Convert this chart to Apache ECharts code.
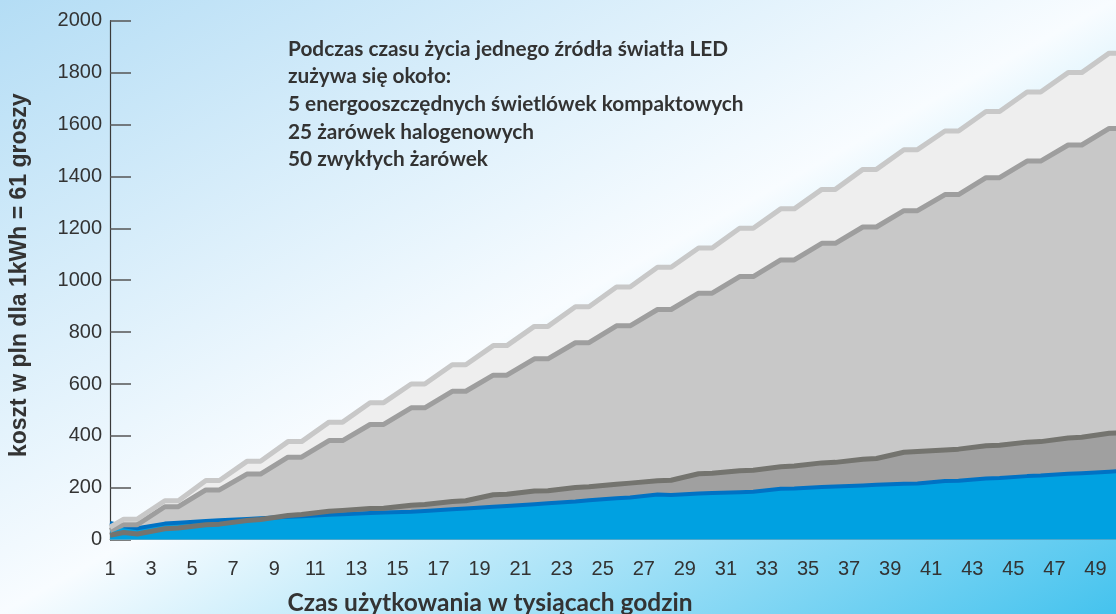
<!DOCTYPE html>
<html>
<head>
<meta charset="utf-8">
<script src="https://cdn.jsdelivr.net/npm/echarts@6/dist/echarts.min.js"></script>
<style>html,body{margin:0;padding:0;}#c{width:1116px;height:614px;}</style>
</head>
<body>
<div id="c"></div>
<script>
// x positions (thousands of hours)
const hours = [1, 1.67, 2.33, 3.67, 4.33, 5.67, 6.33, 7.67, 8.33, 9.67, 10.33, 11.67, 12.33, 13.67, 14.33, 15.67, 16.33, 17.67, 18.33, 19.67, 20.33, 21.67, 22.33, 23.67, 24.33, 25.67, 26.33, 27.67, 28.33, 29.67, 30.33, 31.67, 32.33, 33.67, 34.33, 35.67, 36.33, 37.67, 38.33, 39.67, 40.33, 41.67, 42.33, 43.67, 44.33, 45.67, 46.33, 47.67, 48.33, 49.67, 50.33];
// zwykła żarówka
const incandescent = [48, 79,79, 150,150, 228,228, 302,302, 378,378, 453,453, 528,528, 600,600, 674,674, 748,748, 822,822, 898,898, 974,974, 1050,1050, 1124,1124, 1200,1200, 1275,1275, 1350,1350, 1427,1427, 1503,1503, 1575,1575, 1650,1650, 1725,1725, 1800,1800, 1875,1875];
// halogen
const halogen = [36, 58,58, 127,127, 192,192, 253,253, 318,318, 382,382, 444,444, 508,508, 572,572, 634,634, 697,697, 759,759, 824,824, 887,887, 950,950, 1014,1014, 1078,1078, 1142,1142, 1205,1205, 1268,1268, 1330,1330, 1395,1395, 1459,1459, 1521,1521, 1585,1585];
// świetlówka kompaktowa
const compact = [17, 28,22, 42,45, 58,60, 74,78, 93,97, 110,113, 120,121, 133,136, 147,150, 173,175, 188,189, 201,204, 214,218, 227,229, 254,256, 266,268, 281,284, 296,298, 310,313, 337,340, 346,349, 362,364, 376,378, 392,395, 410,412];
// LED
const led = [65, 52,44, 62,65, 72,75, 80,83, 88,90, 96,98, 103,105, 108,111, 117,120, 127,130, 137,140, 147,152, 160,163, 174,172, 178,180, 183,185, 196,197, 203,205, 209,212, 216,217, 226,227, 236,238, 245,247, 254,256, 262,265];
const xTickLabels = [1, 3, 5, 7, 9, 11, 13, 15, 17, 19, 21, 23, 25, 27, 29, 31, 33, 35, 37, 39, 41, 43, 45, 47, 49];
const yTicks = [0, 200, 400, 600, 800, 1000, 1200, 1400, 1600, 1800, 2000];
const noteLines = [
  'Podczas czasu życia jednego źródła światła LED',
  'zużywa się około:',
  '5 energooszczędnych świetlówek kompaktowych',
  '25 żarówek halogenowych',
  '50 zwykłych żarówek'
];
const xTitle = 'Czas użytkowania w tysiącach godzin';
const yTitle = 'koszt w pln dla 1kWh = 61 groszy';

const seriesDefs = [
  {name: 'Zwykłe żarówki', values: incandescent, fill: '#eeeeee', line: '#c8c8c8', w: 5},
  {name: 'Halogeny', values: halogen, fill: '#c8c8c8', line: '#9e9e9e', w: 5},
  {name: 'Świetlówki kompaktowe', values: compact, fill: '#a0a0a0', line: '#74746f', w: 5},
  {name: 'LED', values: led, fill: '#00a1e1', line: '#0072c4', w: 4}
];
const pairs = v => hours.map((h, i) => [h, v[i]]);
const series = [];
seriesDefs.forEach(d => series.push({
  type: 'line', name: d.name, data: pairs(d.values), showSymbol: false, symbol: 'none',
  lineStyle: {width: 0, opacity: 0}, areaStyle: {color: d.fill, opacity: 1}, z: 2, silent: true
}));
seriesDefs.slice().reverse().forEach(d => series.push({
  type: 'line', name: d.name + ' linia', data: pairs(d.values), showSymbol: false, symbol: 'none',
  lineStyle: {width: d.w, color: d.line, join: 'round'}, z: 3, silent: true
}));

const chart = echarts.init(document.getElementById('c'));
chart.setOption({
  animation: false,
  backgroundColor: {
    type: 'linear', x: 0, y: 0, x2: 518, y2: 942, global: true,
    colorStops: [
      {offset: 0, color: '#b4ddf5'},
      {offset: 0.5, color: '#f8fcff'},
      {offset: 1, color: '#45c3ee'}
    ]
  },
  grid: {left: 109, right: -6.3, top: 20.7, bottom: 74.3},
  xAxis: {
    type: 'value', min: 1, max: 50,
    axisLine: {show: true, lineStyle: {color: '#9a9a9a', width: 1}},
    axisTick: {show: false},
    splitLine: {show: false},
    axisLabel: {
      customValues: xTickLabels, margin: 20, fontSize: 20, color: '#333333',
      fontFamily: 'Liberation Sans'
    }
  },
  yAxis: {
    type: 'value', min: 0, max: 2000, interval: 200,
    name: yTitle, nameLocation: 'middle', nameGap: 79,
    nameTextStyle: {fontSize: 23, fontWeight: 'bold', color: '#333333', fontFamily: 'Liberation Sans', padding: [0, 0, 0, 10]},
    axisLine: {show: true, lineStyle: {color: '#3a3a3a', width: 1.2}},
    axisTick: {show: true, inside: true, length: 21, lineStyle: {color: '#555555', width: 1.5}},
    splitLine: {show: false},
    axisLabel: {
      margin: 8, fontSize: 20, color: '#333333', fontFamily: 'Liberation Sans',
      formatter: v => yTicks.includes(v) ? String(v) : ''
    }
  },
  graphic: [
    {
      type: 'text', left: 288, top: 35, silent: true,
      style: {text: noteLines.join('\n'), font: 'bold 20.8px Lato', fill: '#333333', lineHeight: 27.7}
    },
    {
      type: 'text', x: 490, y: 603, silent: true,
      style: {text: xTitle, font: 'bold 24.5px Lato', fill: '#333333', align: 'center', verticalAlign: 'middle'}
    }
  ],
  series: series
});
</script>
</body>
</html>
